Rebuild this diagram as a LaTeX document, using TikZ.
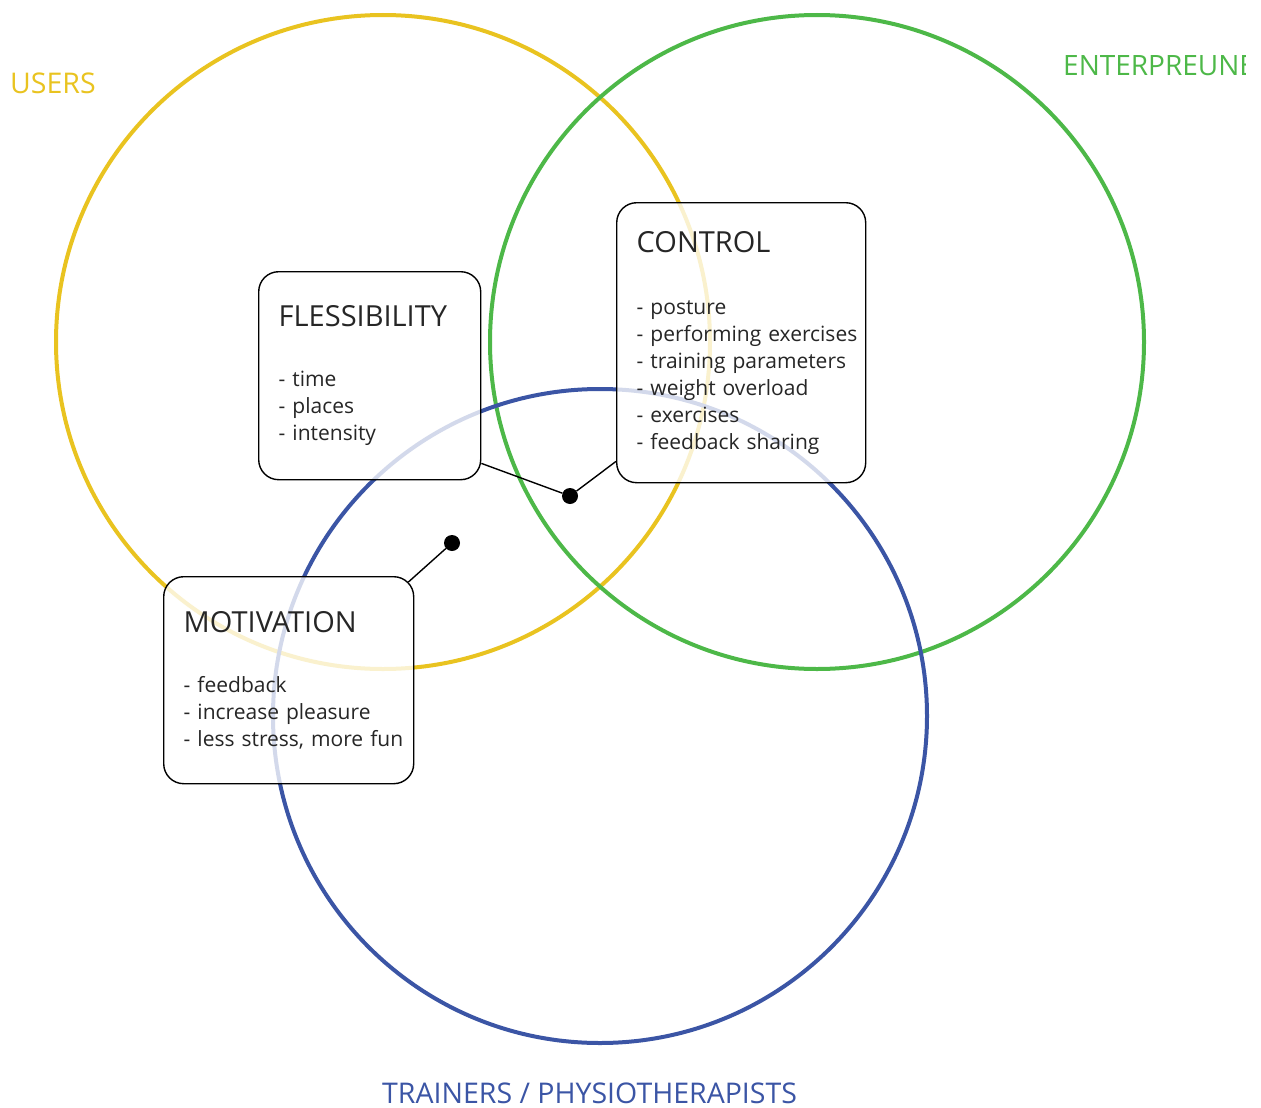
\documentclass[tikz,border=0pt]{standalone}
\usepackage{fontspec}
\setmainfont{Open Sans}
\usetikzlibrary{calc}

\definecolor{usersyellow}{HTML}{E9C320}
\definecolor{entgreen}{HTML}{4DB848}
\definecolor{trainblue}{HTML}{3B55A5}

\newcommand\boxtitle[1]{{\fontsize{29}{34}\selectfont #1}}

\begin{document}
\begin{tikzpicture}[x=1pt, y=-1pt,
    ring/.style={draw, line width=4pt},
    box/.style={draw, line width=1.4pt, rounded corners=20pt, fill=white, fill opacity=0.78,
      text opacity=1, align=left, inner xsep=20pt, inner ysep=0pt, anchor=north west,
      font=\fontsize{21}{27}\selectfont, text=black!85},
    hub/.style={circle, fill=black, inner sep=0pt, minimum size=16pt},
    link/.style={line width=1.4pt},
    group/.style={font=\fontsize{28.5}{32}\selectfont, inner sep=0pt, anchor=base west}]
    \useasboundingbox (0,0) rectangle (1261,1108);

    % the three circles
    \draw[ring, usersyellow] (383,342) circle (327pt);
    \draw[ring, entgreen] (817,342) circle (327pt);
    \draw[ring, trainblue] (600,716) circle (327pt);

    % group names
    \node[group, text=usersyellow] (users) at (10,93) {USERS};
    \begin{scope}
      \clip (1000,0) rectangle (1245,120);
      \node[group, text=entgreen, font=\fontsize{28}{32}\selectfont] (ent) at (1063,75) {ENTERPREUNEURS};
    \end{scope}
    \node[group, text=trainblue] (train) at (382,1103) {TRAINERS / PHYSIOTHERAPISTS};

    % boxes
    \node[box, text width=182pt, minimum height=208pt] (flex) at (258,271)
      {\boxtitle{FLESSIBILITY}\\[33pt] - time\\ - places\\ - intensity};
    \node[box, text width=209pt, minimum height=280pt] (ctrl) at (616,202)
      {\boxtitle{CONTROL}\\[35pt] - posture\\ \mbox{- performing exercises}\\ \mbox{- training parameters}\\
       - weight overload\\ - exercises\\ - feedback sharing};
    \node[box, text width=210pt, minimum height=207pt] (motiv) at (163,576)
      {\boxtitle{MOTIVATION}\\[33pt] - feedback\\ - increase pleasure\\ \mbox{- less stress, more fun}};

    % pointers
    \node[hub] (hub1) at (570,496) {};
    \node[hub] (hub2) at (452,543) {};
    \draw[link] ($(flex.south east)+(0,-17)$) -- (hub1) -- ($(ctrl.south west)+(0,-22)$);
    \draw[link] (hub2) -- ($(motiv.north east)+(-6,6)$);
\end{tikzpicture}
\end{document}
